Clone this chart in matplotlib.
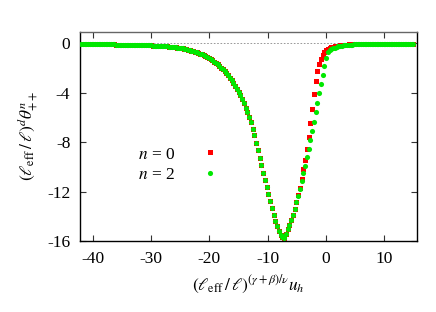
import matplotlib
matplotlib.use("Agg")
import matplotlib.pyplot as plt

# scaled field u (x axis)
u = [-42.0, -41.7, -41.4, -41.1, -40.8, -40.5, -40.2, -39.9, -39.6, -39.3,
     -39.0, -38.7, -38.4, -38.1, -37.8, -37.5, -37.2, -36.9, -36.6, -36.3,
     -36.0, -35.7, -35.4, -35.1, -34.8, -34.5, -34.2, -33.9, -33.6, -33.3,
     -33.0, -32.7, -32.4, -32.1, -31.8, -31.5, -31.2, -30.9, -30.6, -30.3,
     -30.0, -29.7, -29.4, -29.1, -28.8, -28.5, -28.2, -27.9, -27.6, -27.3,
     -27.0, -26.7, -26.4, -26.1, -25.8, -25.5, -25.2, -24.9, -24.6, -24.3,
     -24.0, -23.7, -23.4, -23.1, -22.8, -22.5, -22.2, -21.9, -21.6, -21.3,
     -21.0, -20.7, -20.4, -20.1, -19.8, -19.5, -19.2, -18.9, -18.6, -18.3,
     -18.0, -17.7, -17.4, -17.1, -16.8, -16.5, -16.2, -15.9, -15.6, -15.3,
     -15.0, -14.7, -14.4, -14.1, -13.8, -13.5, -13.2, -12.9, -12.6, -12.3,
     -12.0, -11.7, -11.4, -11.1, -10.8, -10.5, -10.2, -9.9, -9.6, -9.3,
     -9.0, -8.7, -8.4, -8.1, -7.8, -7.5, -7.2, -6.9, -6.6, -6.3,
     -6.0, -5.7, -5.4, -5.1, -4.8, -4.5, -4.2, -3.9, -3.6, -3.3,
     -3.0, -2.7, -2.4, -2.1, -1.8, -1.5, -1.2, -0.9, -0.6, -0.3,
     0.0, 0.3, 0.6, 0.9, 1.2, 1.5, 1.8, 2.1, 2.4, 2.7,
     3.0, 3.3, 3.6, 3.9, 4.2, 4.5, 4.8, 5.1, 5.4, 5.7,
     6.0, 6.3, 6.6, 6.9, 7.2, 7.5, 7.8, 8.1, 8.4, 8.7,
     9.0, 9.3, 9.6, 9.9, 10.2, 10.5, 10.8, 11.1, 11.4, 11.7,
     12.0, 12.3, 12.6, 12.9, 13.2, 13.5, 13.8, 14.1, 14.4, 14.7,
     15.0]

# both n collapse on the left part (u <= -5.1)
common = [-0.05, -0.05, -0.05, -0.05, -0.06, -0.06, -0.06, -0.06, -0.06, -0.06,
          -0.07, -0.07, -0.07, -0.07, -0.07, -0.08, -0.08, -0.08, -0.08, -0.08,
          -0.09, -0.09, -0.09, -0.09, -0.10, -0.10, -0.10, -0.10, -0.11, -0.11,
          -0.11, -0.12, -0.12, -0.12, -0.13, -0.13, -0.14, -0.14, -0.15, -0.15,
          -0.16, -0.17, -0.17, -0.18, -0.19, -0.20, -0.21, -0.22, -0.23, -0.24,
          -0.25, -0.27, -0.28, -0.30, -0.32, -0.34, -0.36, -0.38, -0.41, -0.44,
          -0.47, -0.50, -0.54, -0.58, -0.62, -0.67, -0.72, -0.77, -0.83, -0.89,
          -0.96, -1.03, -1.11, -1.19, -1.28, -1.37, -1.47, -1.58, -1.70, -1.82,
          -1.95, -2.08, -2.22, -2.38, -2.56, -2.76, -2.97, -3.19, -3.42, -3.66,
          -3.92, -4.20, -4.52, -4.85, -5.20, -5.55, -5.95, -6.40, -6.90, -7.45,
          -8.05, -8.65, -9.25, -9.86, -10.47, -11.05, -11.65, -12.22, -12.80, -13.35,
          -13.88, -14.36, -14.80, -15.20, -15.50, -15.68, -15.72, -15.42, -15.06, -14.69,
          -14.33, -13.90, -13.39, -12.85]

theta_n0 = common + [
    -12.29, -11.68, -10.96, -10.20, -9.44, -8.54,
    -7.61, -6.46, -5.30, -4.07, -3.02, -2.22, -1.66, -1.23, -0.91, -0.66,
    -0.55, -0.45, -0.38, -0.32, -0.27, -0.23, -0.20, -0.17, -0.15, -0.13,
    -0.11, -0.10, -0.09, -0.08, -0.07, -0.07, -0.06, -0.06, -0.05, -0.05,
    -0.05, -0.05, -0.04, -0.04, -0.04, -0.04, -0.04, -0.03, -0.03, -0.03,
    -0.03, -0.03, -0.03, -0.03, -0.03, -0.03, -0.03, -0.03, -0.03, -0.03,
    -0.03, -0.03, -0.02, -0.02, -0.02, -0.02, -0.02, -0.02, -0.02, -0.02,
    -0.02]

theta_n2 = common + [
    -12.33, -11.78, -11.13, -10.53, -9.89, -9.22,
    -8.54, -7.83, -7.10, -6.33, -5.55, -4.79, -4.01, -3.26, -2.55, -1.84,
    -1.17, -0.72, -0.56, -0.46, -0.39, -0.33, -0.28, -0.24, -0.21, -0.18,
    -0.16, -0.14, -0.12, -0.11, -0.10, -0.09, -0.08, -0.07, -0.07, -0.06,
    -0.06, -0.06, -0.05, -0.05, -0.05, -0.05, -0.04, -0.04, -0.04, -0.04,
    -0.04, -0.04, -0.03, -0.03, -0.03, -0.03, -0.03, -0.03, -0.03, -0.03,
    -0.03, -0.03, -0.03, -0.03, -0.03, -0.03, -0.03, -0.03, -0.03, -0.03,
    -0.03]

xticks = [-40, -30, -20, -10, 0, 10]
yticks = [0, -4, -8, -12, -16]

plt.rcParams['font.family'] = ['Liberation Serif', 'DejaVu Serif']
plt.rcParams['mathtext.fontset'] = 'stix'
plt.rcParams['axes.unicode_minus'] = False

fig = plt.figure(figsize=(4.36, 3.12), dpi=100)
ax = fig.add_axes([0.1835, 0.2276, 0.7722, 0.6708])

# dotted zero line
ax.axhline(0, color='#888888', lw=0.6, ls=(0, (2, 2)), zorder=1)

ax.plot(u, theta_n0, ls='none', marker='s', ms=3.6, mew=0,
        color='#ff0000', label='$n$ = 0', zorder=2)
ax.plot(u, theta_n2, ls='none', marker='o', ms=3.7, mew=0,
        color='#00e800', label='$n$ = 2', zorder=3)

ax.set_xlim(-42.2, 15.55)
ax.set_ylim(-16, 0.95)
ax.set_xticks(xticks)
ax.set_yticks(yticks)
ax.set_xticklabels([str(t) for t in xticks])
ax.set_yticklabels([str(t) for t in yticks])
ax.tick_params(direction='in', length=4.3, width=0.8, top=True, right=True,
               labelsize=12.5, pad=7, color='#333333')
for s in ax.spines.values():
    s.set_linewidth(1.0)
ax.spines['top'].set_color('#666666')

ax.set_xlabel(r'$(\ell_{\rm eff}\,/\,\ell)^{(\gamma+\beta)/\nu}u_h$', fontsize=12.5, labelpad=5)
ax.set_ylabel(r'$(\ell_{\rm eff}\,/\,\ell)^{d}\theta^{n}_{++}$', fontsize=12.5, labelpad=5)

ax.legend(loc='upper right', bbox_to_anchor=(0.4366, 0.452), frameon=False,
          markerfirst=False, handlelength=2.0, handletextpad=1.0,
          borderpad=0, borderaxespad=0, labelspacing=0.25, fontsize=12.5,
          numpoints=1)

fig.savefig('out.png', dpi=100)
